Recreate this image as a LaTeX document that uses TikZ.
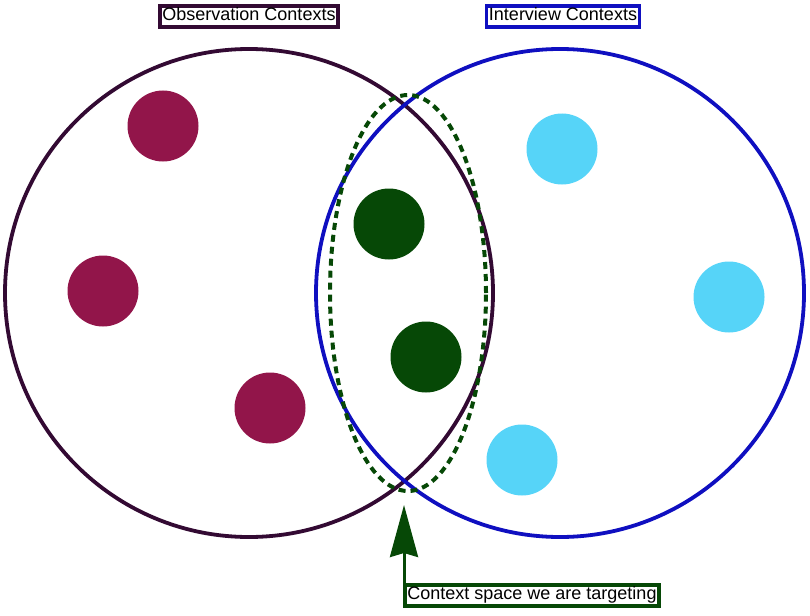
\documentclass[tikz,border=0pt]{standalone}
\usepackage{fontspec}
\setmainfont{Liberation Sans}
\usetikzlibrary{arrows.meta,shapes.geometric}
\definecolor{obscol}{HTML}{330A33}
\definecolor{intcol}{HTML}{0F0FC0}
\definecolor{magdot}{HTML}{92154A}
\definecolor{greendot}{HTML}{064806}
\definecolor{cyandot}{HTML}{56D4F8}
\begin{document}
\begin{tikzpicture}[x=1pt,y=-1pt,
  ring/.style={line width=3.8pt,circle,minimum size=488pt,inner sep=0pt},
  dotnode/.style={circle,minimum size=71pt,inner sep=0pt},
  lab/.style={draw,line width=3.8pt,fill=white,inner xsep=2.5pt,inner ysep=2pt,text height=13pt,text depth=4pt,font=\fontsize{18}{20}\selectfont}]
\useasboundingbox (0,0) rectangle (810,615);
\node[ring,draw=obscol] (obs) at (249,293) {};
\node[ring,draw=intcol] (int) at (560,293) {};
\node[draw=greendot,dash pattern=on 7pt off 5pt,line width=4pt,ellipse,minimum width=156pt,minimum height=396pt,inner sep=0pt] (target) at (408,293) {};
\node[dotnode,fill=magdot] (m1) at (163,126) {};
\node[dotnode,fill=magdot] (m2) at (103,291) {};
\node[dotnode,fill=magdot] (m3) at (270,408) {};
\node[dotnode,fill=greendot] (g1) at (389,224) {};
\node[dotnode,fill=greendot] (g2) at (426,357) {};
\node[dotnode,fill=cyandot] (c1) at (562,149) {};
\node[dotnode,fill=cyandot] (c2) at (729,297) {};
\node[dotnode,fill=cyandot] (c3) at (522,460) {};
\node[lab,draw=obscol] (obslab) at (249,16.5) {Observation Contexts};
\node[lab,draw=intcol] (intlab) at (563,16.5) {Interview Contexts};
\node[lab,draw=greendot,anchor=north west] (tlab) at (403,583) {Context space we are targeting};
\coordinate (tip) at (404,505);
\draw[greendot,line width=3pt,-{Stealth[length=52pt,width=28pt,inset=4pt]}] (tlab.north west -| tip) -- (tip);
\end{tikzpicture}
\end{document}
